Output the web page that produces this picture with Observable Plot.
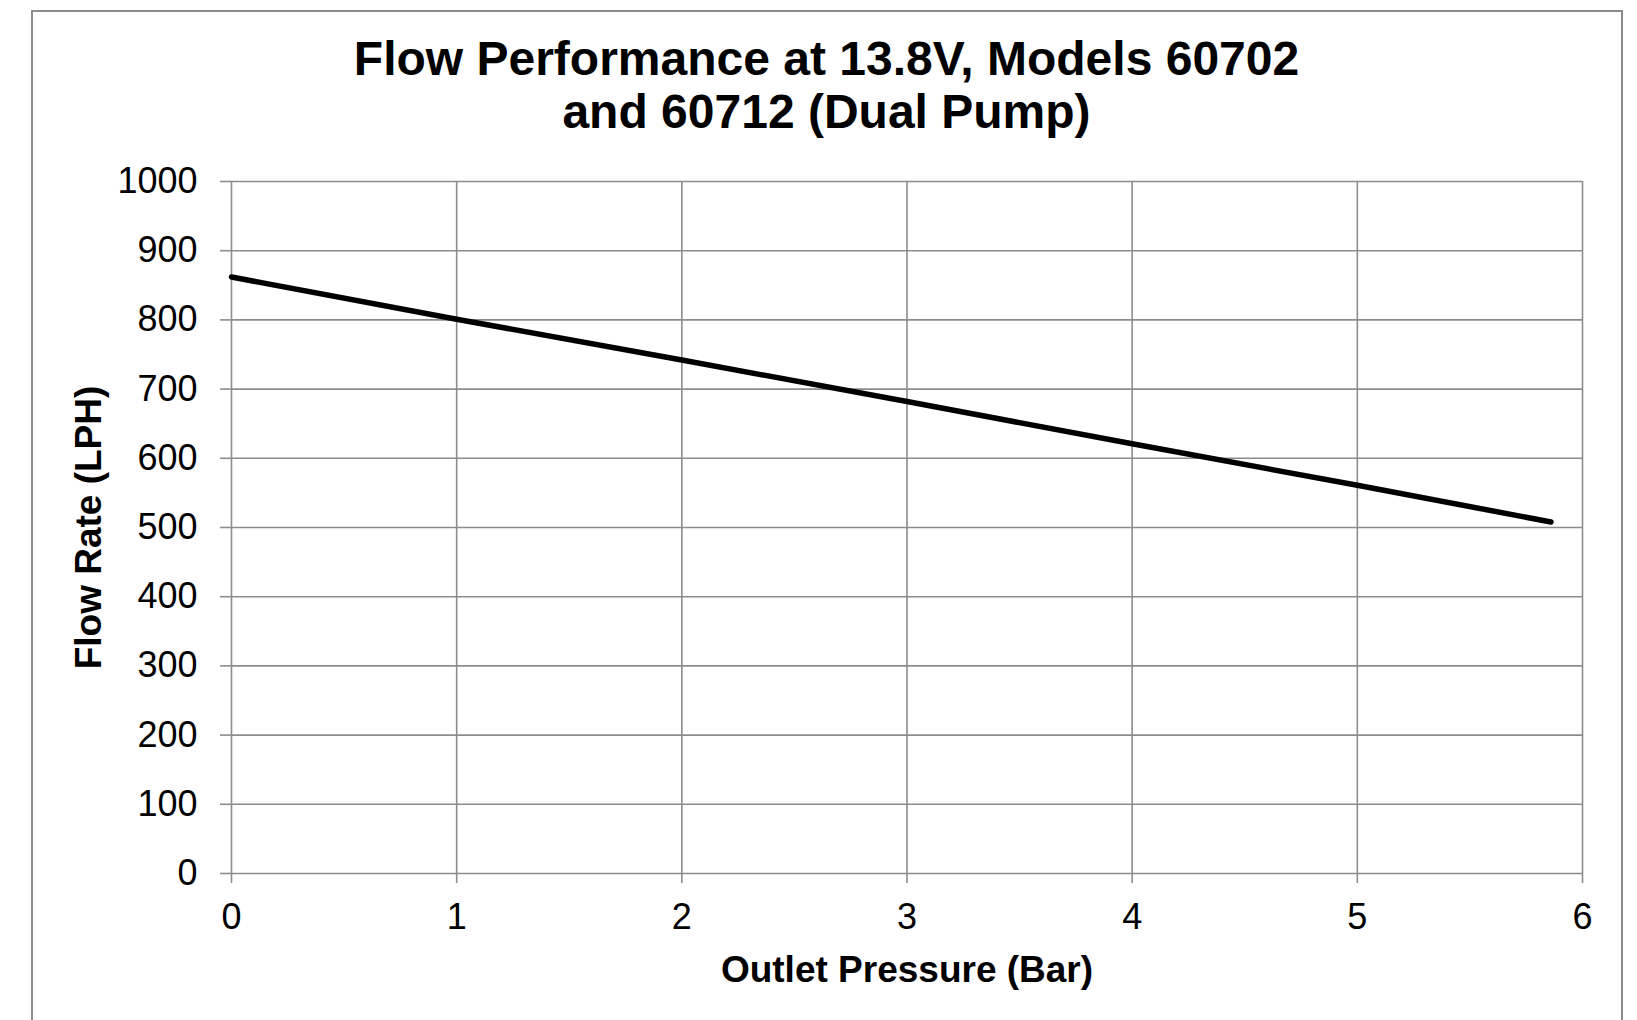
<!DOCTYPE html>
<html>
<head>
<meta charset="utf-8">
<script src="https://cdn.jsdelivr.net/npm/d3@7"></script>
<script src="https://cdn.jsdelivr.net/npm/@observablehq/plot@0.6"></script>
<style>
  html, body { margin: 0; padding: 0; background: #fff; overflow: hidden; }
  body { width: 1637px; height: 1020px; position: relative; font-family: "Liberation Sans", Arial, sans-serif; }
  #frame { position: absolute; left: 31px; top: 10px; width: 1592px; height: 1040px; border: 2px solid #8c8c8c; box-sizing: border-box; }
  #title { position: absolute; left: 32px; top: 32px; width: 1589px; text-align: center; font-weight: bold; font-size: 48px; line-height: 53px; color: #000; }
  #chart { position: absolute; left: 0; top: 150px; }
</style>
</head>
<body>
<div id="frame"></div>
<div id="title">Flow Performance at 13.8V, Models 60702<br>and 60712 (Dual Pump)</div>
<div id="chart"></div>
<script>
const pressure = [0, 1, 2, 3, 4, 5, 5.86];
const flow = [862, 801, 742, 682, 621, 561, 508];
const xTicks = [0, 1, 2, 3, 4, 5, 6];
const yTicks = [0, 100, 200, 300, 400, 500, 600, 700, 800, 900, 1000];
const xLabel = "Outlet Pressure (Bar)";
const yLabel = "Flow Rate (LPH)";

const data = pressure.map((p, i) => ({p, f: flow[i]}));
const gridColor = "#8c8c8c";
const fmt = d => String(d);

const chart = Plot.plot({
  width: 1637,
  height: 870,
  marginTop: 31,
  marginBottom: 147,
  marginLeft: 231,
  marginRight: 55,
  style: {fontFamily: "'Liberation Sans', Arial, sans-serif", fontSize: "36px", color: "#000", background: "transparent"},
  x: {domain: [0, 6]},
  y: {domain: [0, 1000]},
  marks: [
    Plot.gridX(xTicks, {stroke: gridColor, strokeOpacity: 1, strokeWidth: 1.6}),
    Plot.gridY(yTicks, {stroke: gridColor, strokeOpacity: 1, strokeWidth: 1.6}),
    Plot.axisX(xTicks, {tickSize: 10, tickPadding: 20, stroke: gridColor, strokeWidth: 1.6, fill: "#000", fontSize: 36, label: null, tickFormat: fmt}),
    Plot.axisY(yTicks, {tickSize: 11, tickPadding: 23, stroke: gridColor, strokeWidth: 1.6, fill: "#000", fontSize: 36, label: null, tickFormat: fmt}),
    Plot.line(data, {x: "p", y: "f", stroke: "#000", strokeWidth: 5.5, strokeLinecap: "round", strokeLinejoin: "round"}),
    Plot.text([xLabel], {frameAnchor: "bottom", dy: 97, text: d => d, fontSize: 37, fontWeight: "bold", fill: "#000", textAnchor: "middle", lineAnchor: "middle"}),
    Plot.text([yLabel], {frameAnchor: "left", dx: -142, text: d => d, rotate: -90, fontSize: 37, fontWeight: "bold", fill: "#000", textAnchor: "middle", lineAnchor: "middle"})
  ]
});
document.getElementById("chart").appendChild(chart);
</script>
</body>
</html>
